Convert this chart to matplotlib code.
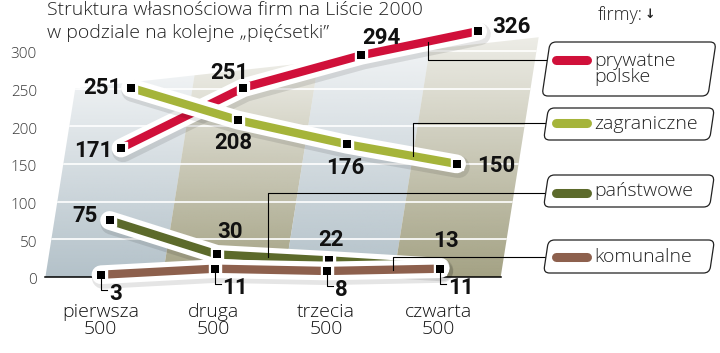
import matplotlib
matplotlib.use('Agg')
import matplotlib.pyplot as plt
import numpy as np
from matplotlib.transforms import Affine2D, offset_copy
from matplotlib.patches import Polygon, FancyBboxPatch
from matplotlib.colors import to_rgb

# chart data
categories = ['pierwsza\n500', 'druga\n500', 'trzecia\n500', 'czwarta\n500']
series_names = ['prywatne\npolske', 'zagraniczne', 'państwowe', 'komunalne']
prywatne = [171, 251, 294, 326]
zagraniczne = [251, 208, 176, 150]
panstwowe = [75, 30, 22, 13]
komunalne = [3, 11, 8, 11]
colors = ['#d0103a', '#a5b43a', '#5c6a2b', '#8d604d']
yticks = [0, 50, 100, 150, 200, 250, 300]
title_lines = ['Struktura własnościowa firm na Liście 2000',
               'w podziale na kolejne „pięćsetki”']

LIGHT = ['Open Sans', 'DejaVu Sans']
BOLD = ['Roboto', 'DejaVu Sans']

W, H = 720, 353
fig = plt.figure(figsize=(W / 100, H / 100), dpi=100)
ax = fig.add_axes([0, 0, 1, 1])
ax.axis('off')
XL = (-100.6 / 112.7, (W - 100.6) / 112.7)
YL = (-(H - 277) / 0.754, 277 / 0.754)
# pixel coords, origin top-left (for the decorations around the plot)
PX = Affine2D().scale(1 / W, -1 / H).translate(0, 1) + fig.transFigure
SKEW = 0.00106  # pseudo 3D lean, category units per value unit
ax.set_xlim(XL)
ax.set_ylim(YL)


def to_px(x, y):
    return PX.inverted().transform(ax.transData.transform((x, y)))


# background panel with four stripes fading upwards
bounds = [-0.49, 0.55, 1.63, 2.6, 3.55]
stripe_cols = ['#b3c1c9', '#a4a284', '#b3c1c9', '#a4a284']
top_l, top_r = 250, 318


def top_at(b):
    return top_l + (top_r - top_l) * (b - bounds[0]) / (bounds[-1] - bounds[0])


fade = np.linspace(0, 1, 200)
for k in range(4):
    b0, b1 = bounds[k], bounds[k + 1]
    t0, t1 = top_at(b0), top_at(b1)
    poly = Polygon([(b0, 0), (b1, 0), (b1 + SKEW * t1, t1), (b0 + SKEW * t0, t0)],
                   closed=True, transform=ax.transData)
    rgba = np.zeros((200, 1, 4))
    rgba[..., :3] = to_rgb(stripe_cols[k])
    rgba[:, 0, 3] = 1 - 0.8 * fade
    im = ax.imshow(rgba, extent=(b0, b1 + SKEW * t1 + 0.05, 0, max(t0, t1)),
                   origin='lower', aspect='auto', interpolation='bilinear', zorder=0)
    im.set_clip_path(poly)

panel = Polygon([(bounds[0], 0), (bounds[-1], 0),
                 (bounds[-1] + SKEW * top_r, top_r), (bounds[0] + SKEW * top_l, top_l)],
                closed=True, transform=ax.transData)
for t in yticks[1:]:
    gl, = ax.plot([-1, 5], [t, t], color='white', lw=1.2, zorder=1)
    gl.set_clip_path(panel)
ax.plot([bounds[0], bounds[-1]], [0, 0], color='black', lw=1.1, zorder=1)

for t in yticks:
    ax.annotate(str(t), (-0.564, t), xytext=(0, -4), textcoords='offset pixels',
                ha='right', va='center', fontsize=11, color='#3a3a3a',
                family=LIGHT, weight='light')

# series: shadow, white band, colour line, markers
all_series = [prywatne, zagraniczne, panstwowe, komunalne]
label_pos = [
    [(-9, 3, 'right'), (-14, -15, 'center'), (20, -17, 'center'), (15, -4, 'left')],
    [(-9, 0, 'right'), (-5, 23, 'center'), (-2, 24, 'center'), (21, 2, 'left')],
    [(-12, -4, 'right'), (13, -22, 'center'), (2, -20, 'center'), (6, -26, 'center')],
    [(8, 19, 'left')] * 4,
]
shadow = offset_copy(ax.transData, fig=fig, x=2, y=-3, units='dots')
idx = np.arange(len(categories))
for s, (vals, col) in enumerate(zip(all_series, colors)):
    z = 3 + s * 5
    v = np.array(vals)
    xs = idx + SKEW * v
    ax.plot(xs, v, color='black', lw=16, alpha=0.10, solid_capstyle='round',
            transform=shadow, zorder=z)
    ax.plot(xs, v, color='white', lw=13.5, solid_capstyle='round', zorder=z + 1)
    ax.plot(xs, v, color=col, lw=6, solid_capstyle='butt', zorder=z + 2)
    ax.plot(xs, v, 's', color='white', ms=8.5, mec='white', zorder=z + 3)
    ax.plot(xs, v, 's', color='black', ms=5.6, mew=0, zorder=z + 4)
    for i in idx:
        dx, dy, ha = label_pos[s][i]
        ax.annotate(str(vals[i]), (xs[i], v[i]), xytext=(dx, -dy),
                    textcoords='offset pixels', ha=ha, va='center',
                    fontsize=16, weight='bold', family=BOLD, color='#111111',
                    zorder=40)
        if s == 3:
            mx, my = to_px(xs[i], v[i])
            ax.plot([mx, mx, mx + 6], [my + 4, my + 15, my + 15], color='black',
                    lw=0.8, transform=PX, zorder=40)

# category labels
for i, lab in enumerate(categories):
    ax.annotate(lab, (i, 0), xytext=(0, -26), textcoords='offset pixels',
                ha='center', va='top', fontsize=14, family=LIGHT, weight='light',
                linespacing=0.95, color='#111111')

# title, two lines
for j, line in enumerate(title_lines):
    ax.text(47, 1 + 23 * j, line, transform=PX, ha='left', va='top', fontsize=14,
            family=LIGHT, weight='light', color='#222222')
ax.text(598, 15, 'firmy:', transform=PX, ha='left', va='center', fontsize=13,
        family=LIGHT, weight='light', color='#222222')
ax.text(645, 14, '↓', transform=PX, ha='left', va='center', fontsize=9,
        family=['DejaVu Sans'], weight='bold', color='#222222')

# legend boxes with leader lines
boxes = [(42, 96, 60), (108, 140, 123), (175, 207, 193), (240, 273, 257)]
anchors = [(2, 0.57), (2, 0.6), (1, 0.46), (2, 0.58)]
for s, (vals, col) in enumerate(zip(all_series, colors)):
    y0, y1, ly = boxes[s]
    seg, t = anchors[s]
    xa = (seg + SKEW * vals[seg]) * (1 - t) + (seg + 1 + SKEW * vals[seg + 1]) * t
    ya = vals[seg] * (1 - t) + vals[seg + 1] * t
    px, py = to_px(xa, ya)
    ax.plot([px, px, 560], [py, ly, ly], color='black', lw=0.8, transform=PX, zorder=45)
    cx, cy = 629, (y0 + y1) / 2
    skew = Affine2D().translate(-cx, -cy).skew_deg(-8.5, 0).translate(cx, cy) + PX
    box = FancyBboxPatch((546, y0), 166, y1 - y0, boxstyle='round,pad=0,rounding_size=6',
                         transform=skew, facecolor='white', edgecolor='#222222',
                         lw=0.9, zorder=46)
    ax.add_patch(box)
    ax.plot([556, 587], [ly, ly], color=col, lw=6.5, solid_capstyle='round',
            transform=PX, zorder=47)
    ax.text(594, cy, series_names[s], transform=PX, ha='left', va='center',
            fontsize=14, family=LIGHT, weight='light', color='#222222',
            linespacing=0.85, zorder=47)

ax.set_xlim(XL)
ax.set_ylim(YL)
fig.savefig('out.png', dpi=100)
